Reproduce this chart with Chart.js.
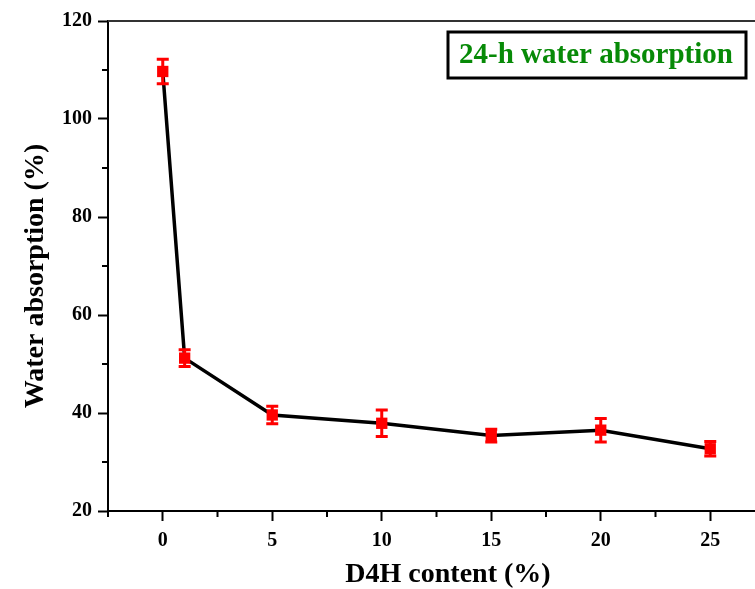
<!DOCTYPE html>
<html>
<head>
<meta charset="utf-8">
<script src="https://cdn.jsdelivr.net/npm/chart.js@4/dist/chart.umd.min.js"></script>
<style>
html,body{margin:0;padding:0;overflow:hidden;background:#fff;width:755px;height:589px;}
canvas{display:block;}
</style>
</head>
<body>
<canvas id="c" width="780" height="589"></canvas>
<script>
const xValues = [0, 1, 5, 10, 15, 20, 25];
const yValues = [109.7, 51.2, 39.6, 37.9, 35.4, 36.5, 32.7];
const yErrors = [2.5, 1.7, 1.8, 2.7, 1.3, 2.4, 1.5];
const xTicks = [0, 5, 10, 15, 20, 25];
const xMinorTicks = [-2.5, 2.5, 7.5, 12.5, 17.5, 22.5];
const yTicks = [20, 40, 60, 80, 100, 120];
const yMinorTicks = [30, 50, 70, 90, 110];
const xTitle = 'D4H content (%)';
const yTitle = 'Water absorption (%)';
const boxLabel = '24-h water absorption';

const FONT = '"Liberation Serif", "Times New Roman", serif';

const extras = {
  id: 'extras',
  afterDatasetsDraw(chart) {
    const ctx = chart.ctx;
    const xs = chart.scales.x, ys = chart.scales.y;
    ctx.save();
    ctx.strokeStyle = '#ff0000';
    ctx.lineWidth = 3;
    xValues.forEach((xv, i) => {
      const px = xs.getPixelForValue(xv);
      const top = ys.getPixelForValue(yValues[i] + yErrors[i]);
      const bot = ys.getPixelForValue(yValues[i] - yErrors[i]);
      ctx.beginPath();
      ctx.moveTo(px, top); ctx.lineTo(px, bot);
      ctx.moveTo(px - 6, top); ctx.lineTo(px + 6, top);
      ctx.moveTo(px - 6, bot); ctx.lineTo(px + 6, bot);
      ctx.stroke();
    });
    ctx.restore();
  },
  afterDraw(chart) {
    const ctx = chart.ctx;
    const xs = chart.scales.x, ys = chart.scales.y;
    const ca = chart.chartArea;
    ctx.save();
    ctx.strokeStyle = '#000';
    ctx.lineWidth = 2;
    ctx.beginPath();
    xMinorTicks.forEach(v => {
      const p = xs.getPixelForValue(v);
      ctx.moveTo(p, ca.bottom); ctx.lineTo(p, ca.bottom + 6);
    });
    yMinorTicks.forEach(v => {
      const p = ys.getPixelForValue(v);
      ctx.moveTo(ca.left, p); ctx.lineTo(ca.left - 6, p);
    });
    ctx.stroke();
    ctx.strokeStyle = '#333';
    ctx.lineWidth = 2;
    ctx.beginPath();
    ctx.moveTo(ca.left, ca.top); ctx.lineTo(ca.right, ca.top);
    ctx.lineTo(ca.right, ca.bottom);
    ctx.stroke();
    ctx.fillStyle = '#000';
    ctx.font = 'bold 28px ' + FONT;
    ctx.textAlign = 'center';
    ctx.textBaseline = 'middle';
    ctx.fillText(xTitle, 448, 575);
    ctx.save();
    ctx.translate(36, 276);
    ctx.rotate(-Math.PI / 2);
    ctx.fillText(yTitle, 0, 0);
    ctx.restore();
    ctx.fillStyle = '#fff';
    ctx.fillRect(448, 32, 298, 46);
    ctx.strokeStyle = '#000';
    ctx.lineWidth = 3;
    ctx.strokeRect(448, 32, 298, 46);
    ctx.fillStyle = '#078a07';
    ctx.font = 'bold 29px ' + FONT;
    ctx.fillText(boxLabel, 596, 56);
    ctx.restore();
  }
};

new Chart(document.getElementById('c'), {
  type: 'scatter',
  data: {
    datasets: [{
      data: xValues.map((x, i) => ({ x: x, y: yValues[i] })),
      showLine: true,
      borderColor: '#000',
      borderWidth: 3.5,
      tension: 0,
      pointStyle: 'rect',
      pointRadius: 8,
      pointBackgroundColor: '#ff0000',
      pointBorderColor: '#ff0000',
      pointBorderWidth: 0
    }]
  },
  options: {
    responsive: false,
    animation: false,
    layout: { padding: { top: 21, right: 15, left: 0, bottom: 0 } },
    plugins: { legend: { display: false }, tooltip: { enabled: false } },
    scales: {
      x: {
        type: 'linear',
        min: -2.5, max: 27.5,
        afterBuildTicks: s => { s.ticks = xTicks.map(v => ({ value: v })); },
        afterFit: s => { s.height = 78; },
        ticks: { font: { family: FONT, size: 20, weight: 'bold' }, color: '#000', padding: 8, maxRotation: 0, autoSkip: false },
        grid: { drawOnChartArea: false, color: '#000', tickLength: 10, tickWidth: 2 },
        border: { color: '#000', width: 2 }
      },
      y: {
        type: 'linear',
        min: 20, max: 120,
        afterBuildTicks: s => { s.ticks = yTicks.map(v => ({ value: v })); },
        afterFit: s => { s.width = 108; },
        ticks: { font: { family: FONT, size: 20, weight: 'bold' }, color: '#000', padding: 6, autoSkip: false },
        grid: { drawOnChartArea: false, color: '#000', tickLength: 10, tickWidth: 2 },
        border: { color: '#000', width: 2 }
      }
    }
  },
  plugins: [extras]
});
</script>
</body>
</html>
